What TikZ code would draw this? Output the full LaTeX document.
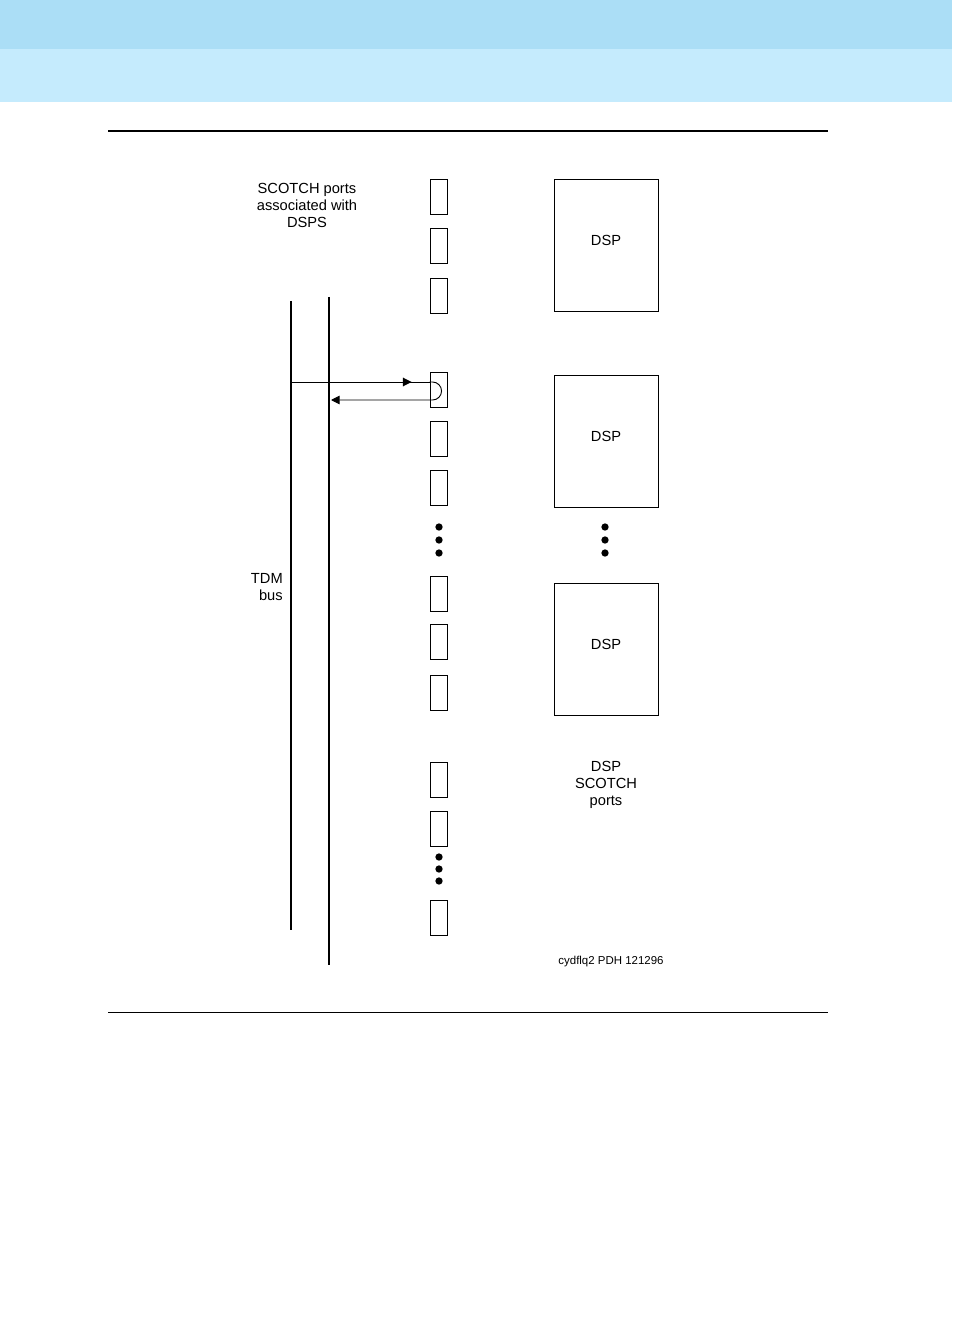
\documentclass[tikz,border=0pt]{standalone}
\usepackage{fontspec}
\setmainfont{Liberation Sans}
\usepackage{tikz}
\usetikzlibrary{positioning,arrows.meta,calc}
\definecolor{bandtop}{HTML}{ABDEF6}
\definecolor{bandlow}{HTML}{C5EBFD}

\begin{document}
\begin{tikzpicture}[x=0.75pt, y=-0.75pt,
  port/.style={draw, line width=0.7pt, minimum width=12.75pt, minimum height=26.25pt, inner sep=0pt},
  dspbox/.style={draw, line width=0.7pt, minimum width=78pt, minimum height=99pt, inner sep=0pt, text depth=6.5pt, font=\fontsize{11}{12.75}\selectfont},
  dot/.style={circle, fill=black, minimum size=5.5pt, inner sep=0pt},
  label/.style={align=center, font=\fontsize{11}{12.75}\selectfont, inner sep=0pt},
  bus/.style={line width=1.7pt},
  link/.style={line width=0.7pt},
  tip/.style={-{Triangle[length=6.5pt,width=6.5pt]}}]
  \useasboundingbox (0,0) rectangle (952,1326);

  % Cabecera
  \fill[bandtop] (0,0) rectangle (952,49);
  \fill[bandlow] (0,49) rectangle (952,102);
  \draw[line width=1.5pt] (108,131) -- (828,131);
  \draw[line width=0.75pt] (108,1012) -- (828,1012);

  % Puertos SCOTCH
  \foreach \n/\y in {1/196.5, 2/245.5, 3/296, 4/390, 5/438.5, 6/487.5,
                     7/594, 8/642, 9/692.5, 10/779.5, 11/828.5, 12/918}{
    \node[port] (p\n) at (438.5,\y) {};
  }
  \foreach \y in {527,540,553,857,869,881}{
    \node[dot] (dl\y) at (439,\y) {};
  }

  % DSPs
  \node[dspbox] (dsp1) at (606,245) {DSP};
  \node[dspbox] (dsp2) at (606,441) {DSP};
  \node[dspbox] (dsp3) at (606,649) {DSP};
  \foreach \y in {527,540,553}{
    \node[dot] (dr\y) at (605,\y) {};
  }

  % Bus TDM
  \coordinate (busA top) at (291,301);
  \coordinate (busA bot) at (291,930);
  \coordinate (busB top) at (329,297);
  \coordinate (busB bot) at (329,965);
  \draw[bus] (busA top) -- (busA bot);
  \draw[bus, line width=2pt] (busB top) -- (busB bot);

  % Lazo por el puerto
  \coordinate (tap) at (291,382);
  \coordinate (in) at (p4.west |- tap);
  \coordinate (ret) at (331,400);
  \draw[link] (tap) -- (in);
  \draw[link, tip, shorten >=13.5pt] (tap) -- (in);
  \draw[link, tip] (in) -- ++(3,0) arc[start angle=-90, end angle=90, radius=9] -- (ret);

  % Textos
  \node[label] (assoc) at (307,205) {SCOTCH ports\\associated with\\DSPS};
  \node[label, align=right, anchor=east] (tdm) at (283,587) {TDM\\bus};
  \node[label] (dspports) at (606,785) {DSP\\SCOTCH\\ports};
  \node[label, font=\fontsize{8.6}{10}\selectfont] (ref) at (611,962) {cydflq2 PDH 121296};
\end{tikzpicture}
\end{document}
